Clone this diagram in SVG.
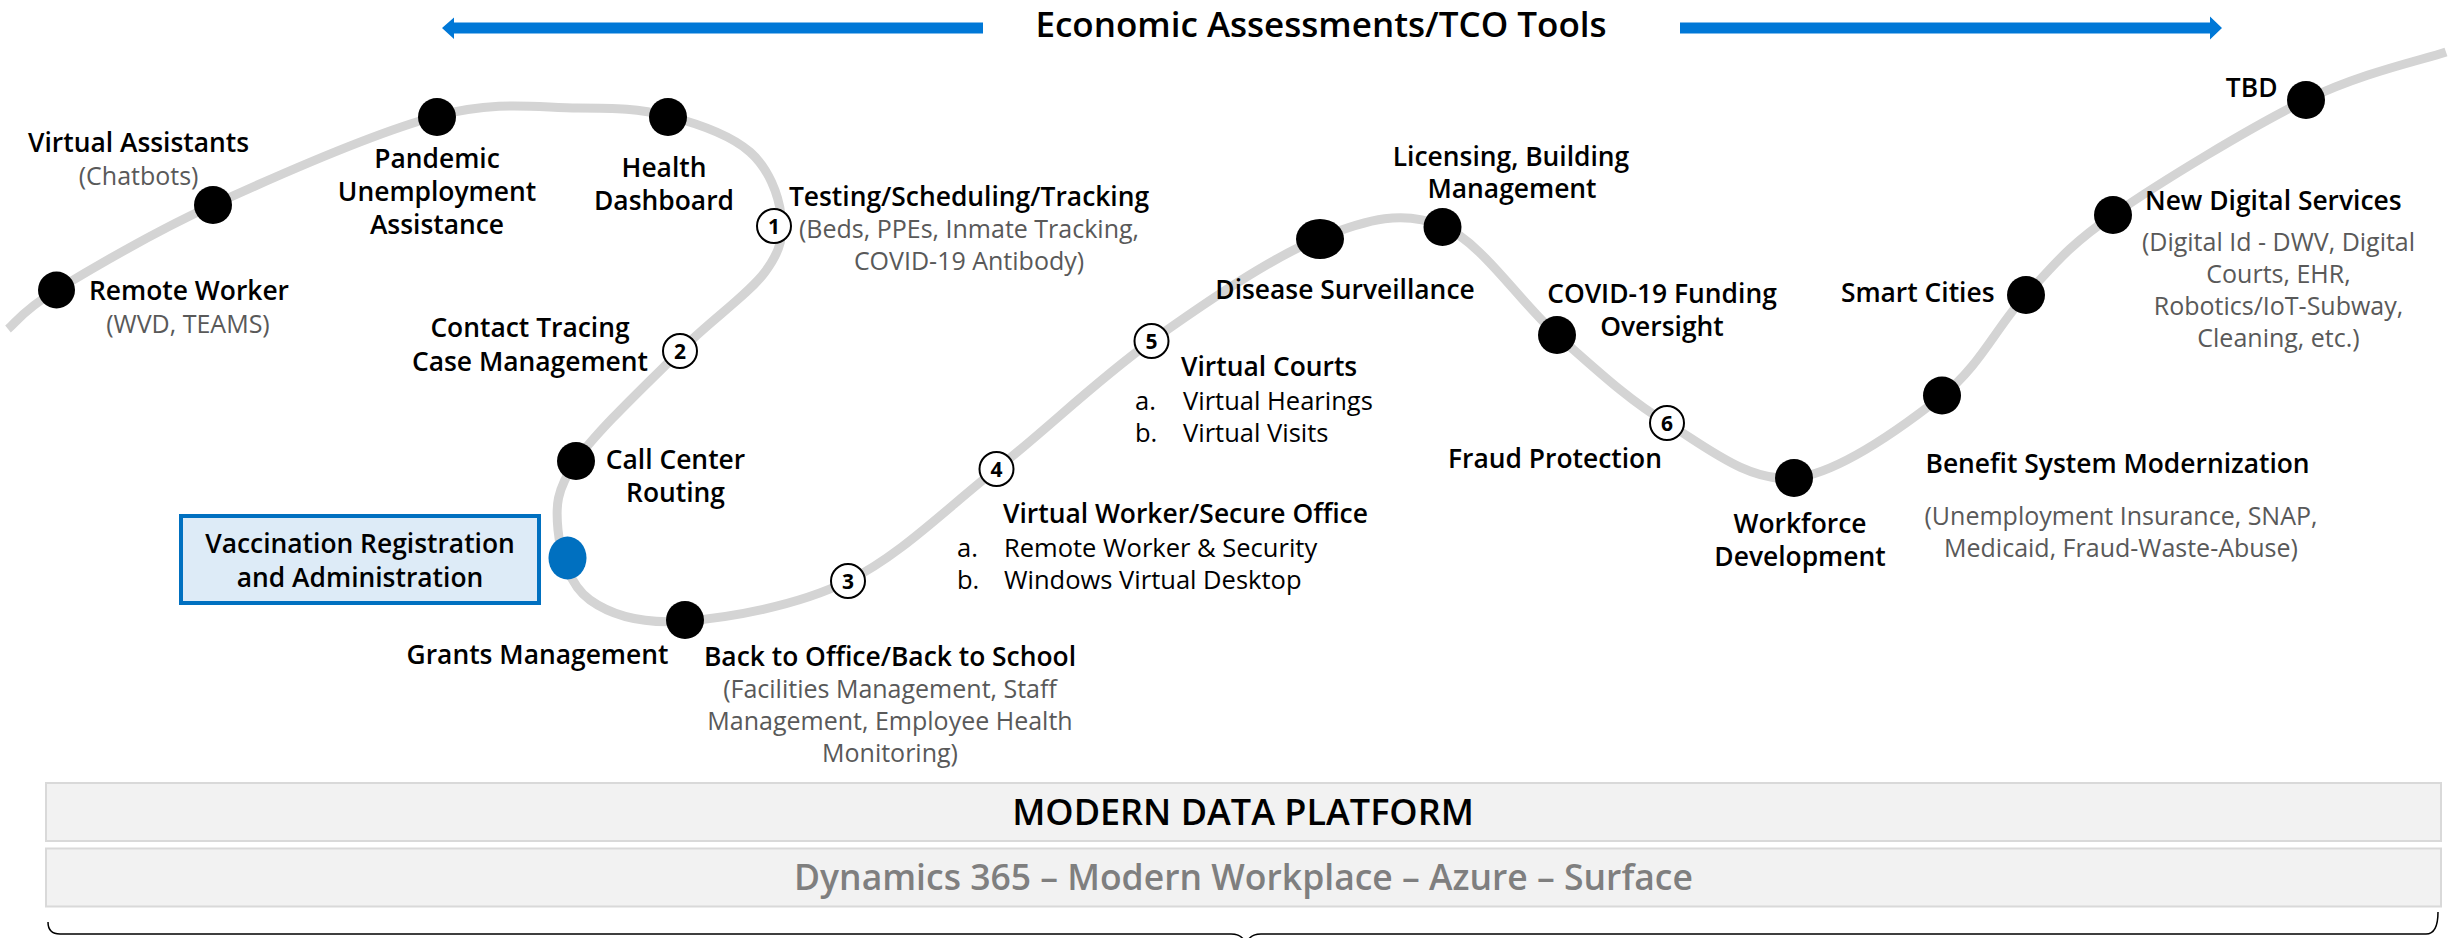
<svg xmlns="http://www.w3.org/2000/svg" width="2450" height="938" viewBox="0 0 2450 938">
<style>
text{font-family:"Open Sans","Noto Sans","Liberation Sans",sans-serif;}
.lb{font-size:26.4px;font-weight:600;fill:#000;}
.sb{font-size:25px;font-weight:400;fill:#595959;}
.li{font-size:25.5px;font-weight:400;fill:#000;}
.m{text-anchor:middle;}
.e{text-anchor:end;}
.dot{fill:#000;}
.num circle{fill:#fff;stroke:#000;stroke-width:2;}
.num text{font-size:21px;font-weight:700;fill:#000;text-anchor:middle;}
.arrow{fill:#0078D7;}
.bar{fill:#F2F2F2;stroke:#D9D9D9;stroke-width:2;}
</style>

<g id="title">
<polygon class="arrow" points="442,28 454,17.5 454,22.5 983,22.5 983,33.5 454,33.5 454,39"/>
<polygon class="arrow" points="1680,22.5 2210,22.5 2210,16.5 2222,28 2210,39.5 2210,33.5 1680,33.5"/>
<text x="1321" y="37" class="m" style="font-size:35px;font-weight:600;fill:#000">Economic Assessments/TCO Tools</text>
</g>

<g id="connectors">
<path d="M8,329 C16.1,322.5 22.3,310.7 56.5,290 C90.7,269.3 149.6,234 213,205 C276.4,176 376.2,132.2 437,116 C497.8,99.8 539.5,108 578,108 C616.5,108 639.3,108.7 668,116 C696.7,123.3 731.2,135.5 750,152 C768.8,168.5 778.5,195 781,215 C783.5,235 781.8,249.3 765,272 C748.2,294.7 711.5,319.5 680,351 C648.5,382.5 596.3,431.2 576,461 C555.7,490.8 555.7,506.8 558,530 C560.3,553.2 568.8,584.8 590,600 C611.2,615.2 642,624.2 685,621 C728,617.8 796.1,606.3 848,581 C899.9,555.7 945.9,509 996.5,469 C1047.1,429 1097.6,379.5 1151.5,341 C1205.4,302.5 1271.5,257.2 1320,238 C1368.5,218.8 1403,209.8 1442.5,226 C1482,242.2 1519.6,302.2 1557,335 C1594.4,367.8 1627.5,399.2 1667,423 C1706.5,446.8 1748.2,482.5 1794,478 C1839.8,473.5 1903.3,426.5 1942,396 C1980.7,365.5 1997.5,325.2 2026,295 C2054.5,264.8 2066.3,247.5 2113,215 C2159.7,182.5 2250.5,127.2 2306,100 C2361.5,72.8 2422.7,60 2446,52" fill="none" stroke="#D4D4D4" stroke-width="9"/>
</g>

<g id="remote-worker">
<circle class="dot" cx="56.5" cy="290" r="18.5"/>
<text x="89" y="300" class="lb">Remote Worker</text>
<text x="188" y="333" class="sb m">(WVD, TEAMS)</text>
</g>

<g id="virtual-assistants">
<circle class="dot" cx="213" cy="205" r="19"/>
<text x="138.6" y="152" class="lb m">Virtual Assistants</text>
<text x="138.6" y="185" class="sb m">(Chatbots)</text>
</g>

<g id="pandemic">
<circle class="dot" cx="437" cy="117" r="19"/>
<text x="437" y="168" class="lb m">Pandemic</text>
<text x="437" y="201" class="lb m">Unemployment</text>
<text x="437" y="234" class="lb m">Assistance</text>
</g>

<g id="health-dashboard">
<circle class="dot" cx="668" cy="117" r="19"/>
<text x="664" y="177" class="lb m">Health</text>
<text x="664" y="210" class="lb m">Dashboard</text>
</g>

<g id="step1" class="num">
<circle cx="774" cy="226" r="17"/>
<text x="774" y="234">1</text>
</g>
<g id="testing">
<text x="969" y="206" class="lb m">Testing/Scheduling/Tracking</text>
<text x="969" y="238" class="sb m">(Beds, PPEs, Inmate Tracking,</text>
<text x="969" y="270" class="sb m">COVID-19 Antibody)</text>
</g>

<g id="step2" class="num">
<circle cx="680" cy="351" r="17"/>
<text x="680" y="359">2</text>
</g>
<g id="contact-tracing">
<text x="530" y="337" class="lb m">Contact Tracing</text>
<text x="530" y="371" class="lb m">Case Management</text>
</g>

<g id="call-center">
<circle class="dot" cx="576" cy="461" r="19"/>
<text x="675.5" y="469" class="lb m">Call Center</text>
<text x="675.5" y="502" class="lb m">Routing</text>
</g>

<g id="vaccination">
<rect x="181" y="516" width="358" height="87" fill="#DDEBF7" stroke="#0070C0" stroke-width="4"/>
<text x="360" y="553" class="lb m">Vaccination Registration</text>
<text x="360" y="587" class="lb m">and Administration</text>
<ellipse cx="567.5" cy="558" rx="19" ry="21.5" fill="#0070C0"/>
</g>

<g id="grants">
<circle class="dot" cx="685" cy="620" r="19"/>
<text x="537.5" y="664" class="lb m">Grants Management</text>
</g>

<g id="back-to-office">
<text x="890" y="666" class="lb m">Back to Office/Back to School</text>
<text x="890" y="698" class="sb m">(Facilities Management, Staff</text>
<text x="890" y="730" class="sb m">Management, Employee Health</text>
<text x="890" y="762" class="sb m">Monitoring)</text>
</g>

<g id="step3" class="num">
<circle cx="848" cy="581" r="17"/>
<text x="848" y="589">3</text>
</g>

<g id="step4" class="num">
<circle cx="996.5" cy="469" r="17"/>
<text x="996.5" y="477">4</text>
</g>
<g id="virtual-worker">
<text x="1003" y="523" class="lb">Virtual Worker/Secure Office</text>
<text x="957" y="557" class="li">a.</text>
<text x="1004" y="557" class="li">Remote Worker &amp; Security</text>
<text x="957" y="589" class="li">b.</text>
<text x="1004" y="589" class="li">Windows Virtual Desktop</text>
</g>

<g id="step5" class="num">
<circle cx="1151.5" cy="341" r="17"/>
<text x="1151.5" y="349">5</text>
</g>
<g id="virtual-courts">
<text x="1181" y="376" class="lb">Virtual Courts</text>
<text x="1135" y="410" class="li">a.</text>
<text x="1183" y="410" class="li">Virtual Hearings</text>
<text x="1135" y="442" class="li">b.</text>
<text x="1183" y="442" class="li">Virtual Visits</text>
</g>

<g id="disease-surveillance">
<ellipse class="dot" cx="1320" cy="239" rx="24" ry="20"/>
<text x="1345" y="299" class="lb m">Disease Surveillance</text>
</g>

<g id="licensing">
<circle class="dot" cx="1442.5" cy="227" r="19"/>
<text x="1511" y="166" class="lb m">Licensing, Building</text>
<text x="1512" y="198" class="lb m">Management</text>
</g>

<g id="covid-funding">
<circle class="dot" cx="1557" cy="335" r="19"/>
<text x="1662" y="303" class="lb m">COVID-19 Funding</text>
<text x="1662" y="336" class="lb m">Oversight</text>
</g>

<g id="step6" class="num">
<circle cx="1667" cy="423" r="17"/>
<text x="1667" y="431">6</text>
</g>
<g id="fraud-protection">
<text x="1555" y="468" class="lb m">Fraud Protection</text>
</g>

<g id="workforce">
<circle class="dot" cx="1794" cy="478" r="19"/>
<text x="1800" y="533" class="lb m">Workforce</text>
<text x="1800" y="566" class="lb m">Development</text>
</g>

<g id="benefit-system">
<circle class="dot" cx="1942" cy="395.5" r="19"/>
<text x="1925.5" y="473" class="lb">Benefit System Modernization</text>
<text x="2121" y="525" class="sb m">(Unemployment Insurance, SNAP,</text>
<text x="2121" y="557" class="sb m">Medicaid, Fraud-Waste-Abuse)</text>
</g>

<g id="smart-cities">
<circle class="dot" cx="2026" cy="295" r="19"/>
<text x="1994.5" y="302" class="lb e">Smart Cities</text>
</g>

<g id="new-digital">
<circle class="dot" cx="2113" cy="215" r="19"/>
<text x="2145" y="210" class="lb">New Digital Services</text>
<text x="2278.5" y="251" class="sb m">(Digital Id - DWV, Digital</text>
<text x="2278.5" y="283" class="sb m">Courts, EHR,</text>
<text x="2278.5" y="315" class="sb m">Robotics/IoT-Subway,</text>
<text x="2278.5" y="347" class="sb m">Cleaning, etc.)</text>
</g>

<g id="tbd">
<circle class="dot" cx="2306" cy="100" r="19"/>
<text x="2277.5" y="97" class="lb e">TBD</text>
</g>

<g id="modern-data-platform">
<rect class="bar" x="46" y="783" width="2395" height="58"/>
<text x="1243" y="825" class="m" style="font-size:36px;font-weight:600;fill:#000">MODERN DATA PLATFORM</text>
</g>

<g id="dynamics">
<rect class="bar" x="46" y="848.5" width="2395" height="58"/>
<text x="1243.5" y="890" class="m" style="font-size:35.5px;font-weight:600;fill:#7F7F7F">Dynamics 365 – Modern Workplace – Azure – Surface</text>
</g>

<g id="brace">
<path d="M48,922 Q48,934 60,934 L1231,934 Q1244,934 1246,946 Q1248,934 1261,934 L2426,934 Q2438,934 2438,912" fill="none" stroke="#000" stroke-width="1.5"/>
</g>
</svg>
